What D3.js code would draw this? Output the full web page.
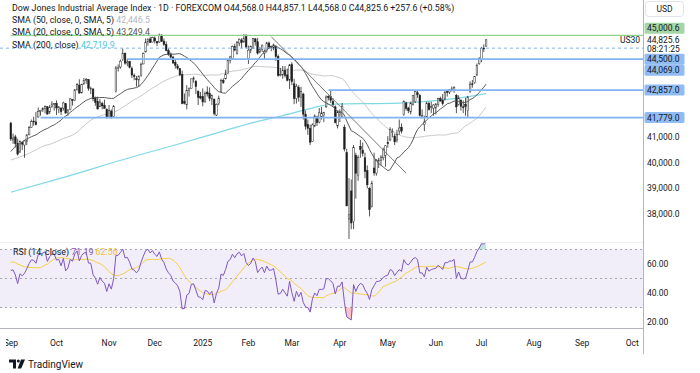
<!DOCTYPE html>
<html>
<head>
<meta charset="utf-8">
<script src="https://cdn.jsdelivr.net/npm/d3@7"></script>
<style>
  body { margin: 0; background: #fff; }
  svg { display: block; font-family: Roboto, 'Open Sans', sans-serif; }
</style>
</head>
<body>
<svg width="700" height="373"></svg>
<script>
// ---- data ----
const firstDay = '2024-09-03';
const holidays = ['2024-11-28', '2024-12-25', '2025-01-01', '2025-01-09', '2025-01-20',
  '2025-02-17', '2025-04-18', '2025-05-26', '2025-06-19'];

// closes before the first visible bar (Jun 21 - Aug 30 2024), only used to warm up SMA / RSI
const warmupCloses = [39150, 39411, 39112, 39127, 39164, 39119,
  39170, 39332, 39308, 39376, 39345, 39292, 39721, 39753, 40001, 40212, 40954, 41198, 40665, 40288,
  40415, 40358, 39854, 39935, 40590, 40540, 40743, 40843,
  40348, 39737, 38703, 38997, 38763, 39446, 39498, 39357, 39766, 40009, 40563, 40660, 40897, 40835,
  40890, 40713, 41175, 41240, 41250, 41091, 41336, 41563];

// daily [open, high, low, close]
const ohlc = [
  // Sep 2024
  [41563, 41607, 40860, 40937], [40900, 41150, 40750, 40975], [41020, 41100, 40600, 40755],
  [40760, 40950, 40290, 40345], [40420, 40880, 40400, 40830], [40800, 40830, 40500, 40737],
  [40700, 40900, 40200, 40861], [40850, 41120, 40700, 41097], [41100, 41450, 41090, 41394],
  [41400, 41700, 41380, 41622], [41640, 41810, 41460, 41606], [41610, 42000, 41470, 41503],
  [41800, 42170, 41780, 42025], [42020, 42080, 41850, 42063], [42080, 42180, 42000, 42124],
  [42130, 42250, 41940, 42208], [42200, 42230, 41900, 41915], [42000, 42270, 41920, 42175],
  [42190, 42420, 42180, 42313], [42300, 42340, 42050, 42330],
  // Oct
  [42330, 42450, 41880, 42156], [42100, 42230, 41950, 42196], [42150, 42180, 41880, 42011],
  [42150, 42400, 42050, 42352], [42320, 42340, 41930, 41954], [41970, 42100, 41850, 42080],
  [42090, 42540, 42060, 42512], [42480, 42500, 42250, 42454], [42440, 42900, 42420, 42863],
  [42860, 43130, 42850, 43065], [43050, 43280, 42720, 42740], [42750, 43100, 42720, 43077],
  [43100, 43330, 43060, 43239], [43250, 43330, 43100, 43275], [43270, 43280, 42830, 42931],
  [42900, 42990, 42700, 42925], [42900, 42920, 42420, 42514], [42530, 42600, 42240, 42374],
  [42400, 42600, 42100, 42114], [42200, 42500, 42190, 42387], [42330, 42400, 42100, 42233],
  [42250, 42480, 42130, 42142], [42100, 42140, 41750, 41763],
  // Nov
  [41830, 42270, 41830, 42052], [42030, 42100, 41740, 41794], [41820, 42270, 41810, 42222],
  [42800, 43800, 42760, 43729], [43720, 43860, 43580, 43729], [43760, 44050, 43700, 43989],
  [44050, 44490, 44000, 44293], [44300, 44330, 43850, 43911], [43920, 44080, 43790, 43958],
  [43980, 44000, 43710, 43751], [43700, 43780, 43330, 43445], [43420, 43510, 43240, 43390],
  [43300, 43410, 42990, 43268], [43250, 43420, 42990, 43408], [43420, 43930, 43380, 43870],
  [43880, 44330, 43870, 44297], [44350, 44880, 44340, 44737], [44750, 44870, 44600, 44860],
  [44860, 44950, 44700, 44722], [44740, 44950, 44730, 44911],
  // Dec
  [44900, 44960, 44680, 44782], [44760, 44780, 44580, 44705], [44740, 45070, 44700, 45014],
  [45010, 45050, 44740, 44766], [44780, 44880, 44580, 44643], [44640, 44760, 44380, 44402],
  [44400, 44490, 44200, 44248], [44270, 44330, 44100, 44149], [44150, 44200, 43900, 43914],
  [43940, 44050, 43700, 43828], [43800, 43880, 43650, 43717], [43700, 43720, 43400, 43450],
  [43460, 43620, 42300, 42327], [42400, 42720, 42290, 42343], [42280, 43050, 42100, 42841],
  [42850, 42960, 42600, 42907], [42910, 43300, 42900, 43297], [43270, 43390, 43150, 43326],
  [43200, 43250, 42700, 42992], [42800, 42850, 42270, 42574], [42600, 42780, 42490, 42544],
  // Jan 2025
  [42600, 42920, 42220, 42392], [42420, 42800, 42350, 42732], [42780, 43000, 42600, 42706],
  [42730, 42960, 42420, 42528], [42500, 42680, 42270, 42635], [42500, 42520, 41860, 41938],
  [41880, 42330, 41840, 42297], [42330, 42640, 42260, 42518], [42800, 43300, 42780, 43222],
  [43230, 43320, 43100, 43153], [43300, 43650, 43270, 43488], [43500, 44050, 43480, 44025],
  [44030, 44200, 43900, 44157], [44100, 44600, 44080, 44565], [44560, 44670, 44380, 44424],
  [44300, 44780, 44250, 44714], [44700, 44880, 44580, 44850], [44820, 44890, 44500, 44713],
  [44750, 45050, 44700, 44882], [44950, 45050, 44480, 44544],
  // Feb
  [44100, 44600, 43880, 44421], [44420, 44600, 44300, 44556], [44500, 44900, 44480, 44873],
  [44860, 44900, 44600, 44747], [44750, 44900, 44250, 44303], [44350, 44540, 44300, 44470],
  [44450, 44650, 44350, 44593], [44300, 44450, 44050, 44368], [44400, 44750, 44330, 44711],
  [44700, 44760, 44480, 44546], [44560, 44600, 44380, 44556], [44500, 44680, 44420, 44628],
  [44580, 44600, 44000, 44176], [44170, 44250, 43380, 43428], [43450, 43720, 43400, 43461],
  [43450, 43800, 43300, 43621], [43620, 43800, 43350, 43433], [43450, 43700, 43200, 43240],
  [43250, 43880, 42900, 43841],
  // Mar
  [43850, 43950, 43050, 43191], [43100, 43300, 42300, 42521], [42520, 43100, 42330, 43006],
  [42950, 43050, 42400, 42579], [42560, 42980, 42200, 42802], [42700, 42750, 41700, 41912],
  [41900, 42050, 41300, 41433], [41500, 41700, 41100, 41350], [41350, 41500, 40700, 40813],
  [40850, 41550, 40830, 41489], [41450, 41900, 41400, 41841], [41800, 41850, 41450, 41582],
  [41600, 42150, 41550, 41965], [41800, 42200, 41700, 41953], [41850, 42000, 41600, 41985],
  [42200, 42650, 42150, 42583], [42600, 42650, 42450, 42587], [42600, 42820, 42350, 42455],
  [42400, 42550, 42200, 42300], [42200, 42250, 41550, 41584], [41450, 42050, 41350, 42002],
  // Apr
  [41900, 42100, 41600, 41989], [41800, 42350, 41750, 42226], [41400, 41500, 40450, 40545],
  [40400, 40550, 38300, 38315], [37800, 39400, 36612, 37966], [38900, 39350, 37400, 37646],
  [37700, 40700, 37400, 40608], [40300, 40400, 38600, 39594], [39500, 40300, 39300, 40213],
  [40650, 40900, 40200, 40525], [40500, 40800, 40250, 40368], [40200, 40400, 39400, 39669],
  [39700, 39900, 39000, 39142], [39000, 39050, 37900, 38170], [38300, 39300, 38250, 39187],
  [39800, 40400, 39500, 39607], [39600, 40150, 39500, 40093], [40050, 40200, 39800, 40114],
  [40100, 40300, 39900, 40228], [40200, 40600, 40100, 40528], [40300, 40700, 39850, 40669],
  // May
  [40800, 41050, 40600, 40753], [40900, 41400, 40850, 41317], [41200, 41350, 41000, 41219],
  [41050, 41150, 40700, 40829], [40900, 41300, 40800, 41114], [41250, 41700, 41100, 41368],
  [41400, 41550, 41150, 41249], [41900, 42450, 41850, 42410], [42350, 42400, 42050, 42141],
  [42150, 42200, 41950, 42051], [42000, 42400, 41900, 42323], [42300, 42660, 42250, 42655],
  [42400, 42800, 42350, 42792], [42750, 42850, 42550, 42677], [42650, 42700, 41820, 41860],
  [41850, 42100, 41750, 41859], [41500, 41850, 41250, 41603], [41800, 42400, 41780, 42343],
  [42330, 42400, 42050, 42098], [42200, 42400, 41950, 42216], [42150, 42300, 41850, 42270],
  // Jun
  [42150, 42350, 41900, 42305], [42300, 42550, 42200, 42520], [42520, 42600, 42400, 42428],
  [42450, 42700, 42250, 42320], [42500, 42850, 42450, 42763], [42800, 42850, 42600, 42762],
  [42780, 42900, 42700, 42867], [42900, 43000, 42800, 42866], [42850, 43000, 42750, 42968],
  [42650, 42700, 41950, 42198], [42300, 42650, 42250, 42516], [42450, 42500, 42050, 42215],
  [42200, 42450, 41950, 42172], [42300, 42550, 41850, 42207], [42050, 42620, 41790, 42582],
  [42800, 43200, 42750, 43089], [43100, 43250, 42950, 43094], [43150, 43400, 43100, 43387],
  [43450, 43900, 43400, 43819], [43900, 44150, 43850, 44095],
  // Jul
  [44050, 44550, 43950, 44495], [44500, 44650, 44350, 44485], [44568, 44857.1, 44568, 44825.6]
];

// 200-day SMA (the chart has no history for it)
const sma200Read = [
  ['2024-09-03', 38850], ['2024-10-03', 39400], ['2024-11-15', 40230], ['2024-12-18', 40780],
  ['2025-01-13', 41170], ['2025-02-04', 41560], ['2025-02-24', 41830], ['2025-03-14', 42150],
  ['2025-03-26', 42300], ['2025-05-08', 42345], ['2025-06-10', 42500], ['2025-07-03', 42720]
];

// horizontal drawings: price, first date (null = full width), kind
const levels = [
  { price: 45000.6, from: '2024-09-03', kind: 'green' },
  { price: 44500.0, from: null, kind: 'dashed' },
  { price: 44069.0, from: '2024-11-13', kind: 'blue' },
  { price: 42857.0, from: '2025-03-25', kind: 'blue' },
  { price: 41779.0, from: '2024-09-20', kind: 'blue' }
];
const trendPoints = [['2025-02-18', 44950], ['2025-05-13', 39600]];

const priceTicks = [38000, 39000, 40000, 41000, 42000, 43000, 44000, 45000];
const rsiTicks = [20, 40, 60];
const rsiBands = [70, 50, 30];

const headerTitle = 'Dow Jones Industrial Average Index · 1D · FOREXCOM';
const headerChange = '+257.6 (+0.58%)';
const symbolName = 'US30';
const countdown = '08:21:25';
const smaLegend = [
  { label: 'SMA (50, close, 0, SMA, 5)', value: '42,446.5', kind: 'sma50' },
  { label: 'SMA (20, close, 0, SMA, 5)', value: '43,249.4', kind: 'sma20' },
  { label: 'SMA (200, close)', value: '42,719.9', kind: 'sma200' }
];
const rsiLegend = { label: 'RSI (14, close)', rsi: '71.19', ma: '62.56' };

// ---- styles ----
const C = {
  text: '#131722', axis: '#b2b5be',
  up: '#ffffff', down: '#1e1e1e', wick: '#2a2a2a',
  sma20: '#5a5a5a', sma50: '#c9c9c9', sma200: '#7fd8e6', sma200Text: '#4cc9dd',
  green: '#8fd18f', greenTag: '#a5d6a7', blue: '#83b3f2', blueTag: '#90bbf3',
  rsi: '#7e57c2', rsiMa: '#f6cf45', band: 'rgba(126,87,194,0.1)'
};

// ---- dates ----
function tradingDays(start, n, skip) {
  const out = [];
  const d = new Date(start + 'T12:00:00Z');
  while (out.length < n) {
    const wd = d.getUTCDay();
    const iso = d.toISOString().slice(0, 10);
    if (wd !== 0 && wd !== 6 && !skip.includes(iso)) out.push(new Date(d));
    d.setUTCDate(d.getUTCDate() + 1);
  }
  return out;
}
const days = tradingDays(firstDay, 285, holidays);
const isoDays = days.map(d => d.toISOString().slice(0, 10));
const idxOf = s => isoDays.indexOf(s);

// ---- indicators ----
const W = warmupCloses.length;
const allCloses = warmupCloses.concat(ohlc.map(d => d[3]));
function sma(values, n) {
  return values.map((v, i) => {
    if (i < n - 1 || values.slice(i - n + 1, i + 1).some(x => x == null)) return null;
    return d3.mean(values.slice(i - n + 1, i + 1));
  });
}
function rsi(values, n) {
  const out = values.map(() => null);
  let g = 0, l = 0;
  for (let i = 1; i <= n; i++) {
    const ch = values[i] - values[i - 1];
    if (ch > 0) g += ch; else l -= ch;
  }
  g /= n; l /= n;
  out[n] = 100 - 100 / (1 + g / l);
  for (let i = n + 1; i < values.length; i++) {
    const ch = values[i] - values[i - 1];
    g = (g * (n - 1) + Math.max(ch, 0)) / n;
    l = (l * (n - 1) + Math.max(-ch, 0)) / n;
    out[i] = l === 0 ? 100 : 100 - 100 / (1 + g / l);
  }
  return out;
}
const sma20 = sma(allCloses, 20).slice(W);
const sma50 = sma(allCloses, 50).slice(W);
const rsiAll = rsi(allCloses, 14);
const rsiVals = rsiAll.slice(W);
const rsiMa = sma(rsiAll, 14).slice(W);

// ---- layout ----
const W_PLOT = 643, MAIN_H = 242, RSI_TOP = 243, RSI_BOT = 328;
const x = d3.scaleLinear().domain([20, 206]).range([56.5, 56.5 + 186 * 2.285]);
const y = d3.scaleLinear().domain([36000, 46000]).range([264.9, 9.9]);
const yr = d3.scaleLinear().domain([0, 100]).range([351, 206]);
const step = x(1) - x(0);

const svg = d3.select('svg');
svg.append('rect').attr('width', 700).attr('height', 373).attr('fill', '#fff');
const defs = svg.append('defs');
defs.append('clipPath').attr('id', 'clipMain').append('rect')
  .attr('x', 0).attr('y', 0).attr('width', W_PLOT).attr('height', MAIN_H - 3);
defs.append('clipPath').attr('id', 'clipRsi').append('rect')
  .attr('x', 0).attr('y', RSI_TOP).attr('width', W_PLOT).attr('height', RSI_BOT - RSI_TOP);
defs.append('clipPath').attr('id', 'clipTime').append('rect')
  .attr('x', 6).attr('y', RSI_BOT).attr('width', W_PLOT - 6).attr('height', 30);

// ---- main pane ----
const main = svg.append('g').attr('clip-path', 'url(#clipMain)');

const line = d3.line().defined(d => d[1] != null).x(d => x(d[0])).y(d => y(d[1]));
main.append('path')
  .attr('d', d3.line().x(d => x(idxOf(d[0]))).y(d => y(d[1])).curve(d3.curveMonotoneX)(sma200Read))
  .attr('fill', 'none').attr('stroke', C.sma200).attr('stroke-width', 1.2);
main.append('path').attr('d', line(sma50.map((v, i) => [i, v])))
  .attr('fill', 'none').attr('stroke', C.sma50).attr('stroke-width', 1);

const bw = Math.max(1, step * 0.7);
const candles = main.selectAll('g.candle').data(ohlc).enter().append('g').attr('class', 'candle');
candles.append('line')
  .attr('x1', (d, i) => x(i)).attr('x2', (d, i) => x(i))
  .attr('y1', d => y(d[1])).attr('y2', d => y(d[2]))
  .attr('stroke', C.wick).attr('stroke-width', 0.8);
candles.append('rect')
  .attr('x', (d, i) => x(i) - bw / 2)
  .attr('width', bw)
  .attr('y', d => y(Math.max(d[0], d[3])))
  .attr('height', d => Math.max(0.8, Math.abs(y(d[0]) - y(d[3]))))
  .attr('fill', d => d[3] >= d[0] ? C.up : C.down)
  .attr('stroke', d => d[3] >= d[0] ? C.wick : C.down)
  .attr('stroke-width', 0.5);

main.append('path').attr('d', line(sma20.map((v, i) => [i, v])))
  .attr('fill', 'none').attr('stroke', C.sma20).attr('stroke-width', 1);

// drawings
levels.forEach(lv => {
  const x0 = lv.from ? x(idxOf(lv.from)) : 0;
  const l = main.append('line')
    .attr('x1', x0).attr('x2', W_PLOT)
    .attr('y1', y(lv.price)).attr('y2', y(lv.price));
  if (lv.kind === 'green') l.attr('stroke', C.green).attr('stroke-width', 1.2);
  else if (lv.kind === 'dashed') l.attr('stroke', C.blue).attr('stroke-width', 1).attr('stroke-dasharray', '3,3');
  else l.attr('stroke', C.blue).attr('stroke-width', 1.8);
});
main.append('line')
  .attr('x1', x(idxOf(trendPoints[0][0]))).attr('y1', y(trendPoints[0][1]))
  .attr('x2', x(idxOf(trendPoints[1][0]))).attr('y2', y(trendPoints[1][1]))
  .attr('stroke', '#7a7a7a').attr('stroke-width', 1);

// ---- RSI pane ----
const rp = svg.append('g').attr('clip-path', 'url(#clipRsi)');
rp.append('rect').attr('x', 0).attr('width', W_PLOT)
  .attr('y', yr(70)).attr('height', yr(30) - yr(70)).attr('fill', C.band);
rsiBands.forEach(b => {
  rp.append('line').attr('x1', 0).attr('x2', W_PLOT).attr('y1', yr(b)).attr('y2', yr(b))
    .attr('stroke', '#a3a6ae').attr('stroke-width', 1).attr('stroke-dasharray', '2,3');
});
const rsiPts = rsiVals.map((v, i) => [i, v]);
rp.append('path')
  .attr('d', d3.area().x(d => x(d[0])).y0(yr(30)).y1(d => yr(Math.min(d[1], 30)))(rsiPts))
  .attr('fill', 'rgba(242,54,69,0.3)');
rp.append('path')
  .attr('d', d3.area().x(d => x(d[0])).y0(yr(70)).y1(d => yr(Math.max(d[1], 70)))(rsiPts))
  .attr('fill', 'rgba(8,153,129,0.25)');
const rline = d3.line().defined(d => d[1] != null).x(d => x(d[0])).y(d => yr(d[1]));
rp.append('path').attr('d', rline(rsiMa.map((v, i) => [i, v])))
  .attr('fill', 'none').attr('stroke', C.rsiMa).attr('stroke-width', 1);
rp.append('path').attr('d', rline(rsiPts))
  .attr('fill', 'none').attr('stroke', C.rsi).attr('stroke-width', 1);

// ---- frames ----
svg.append('line').attr('x1', 0).attr('x2', W_PLOT).attr('y1', MAIN_H + 0.5).attr('y2', MAIN_H + 0.5)
  .attr('stroke', '#eceef2');
svg.append('line').attr('x1', 0).attr('x2', W_PLOT).attr('y1', RSI_BOT + 0.5).attr('y2', RSI_BOT + 0.5)
  .attr('stroke', C.axis);
svg.append('line').attr('x1', W_PLOT + 0.5).attr('x2', W_PLOT + 0.5).attr('y1', 0).attr('y2', 354)
  .attr('stroke', C.axis);

// ---- time axis ----
const monthTicks = [];
days.forEach((d, i) => {
  if (i === 0 || d.getUTCMonth() !== days[i - 1].getUTCMonth()) monthTicks.push(i);
});
svg.append('g').attr('clip-path', 'url(#clipTime)')
  .selectAll('text').data(monthTicks.filter(i => x(i) < W_PLOT - 6)).enter().append('text')
  .attr('x', i => x(i)).attr('y', 346)
  .attr('text-anchor', 'middle').attr('font-size', 8.5).attr('fill', C.text)
  .text(i => days[i].getUTCMonth() === 0 ? d3.utcFormat('%Y')(days[i]) : d3.utcFormat('%b')(days[i]));

// ---- price axis: current price block and level tags ----
const fmt = d3.format(',.1f');
const TAG_H = 11;
const last = ohlc[ohlc.length - 1][3];
const cy = y(last);
const curTop = cy - 6, curBot = cy + 14;

const tags = levels.map(lv => ({ ...lv, cy: y(lv.price) }));
let lim = curTop;
tags.filter(t => t.cy < cy).sort((a, b) => b.cy - a.cy).forEach(t => {
  t.cy = Math.min(t.cy, lim - TAG_H / 2); lim = t.cy - TAG_H / 2;
});
lim = curBot;
tags.filter(t => t.cy >= cy).sort((a, b) => a.cy - b.cy).forEach(t => {
  t.cy = Math.max(t.cy, lim + TAG_H / 2); lim = t.cy + TAG_H / 2;
});

// tick labels hidden where a tag or the price block covers them
const busy = tags.map(t => [t.cy - TAG_H / 2, t.cy + TAG_H / 2]).concat([[curTop, curBot]]);
const free = yy => !busy.some(([a, b]) => yy + 4 > a && yy - 4 < b);

const axisG = svg.append('g');
axisG.selectAll('text.pt').data(priceTicks.filter(p => y(p) < MAIN_H - 5 && free(y(p)))).enter().append('text')
  .attr('x', 647).attr('y', p => y(p) + 3).attr('font-size', 8.5).attr('fill', C.text)
  .text(p => fmt(p));
axisG.selectAll('text.rt').data(rsiTicks).enter().append('text')
  .attr('x', 647).attr('y', v => yr(v) + 3).attr('font-size', 8.5).attr('fill', C.text)
  .text(v => d3.format('.2f')(v));

axisG.append('rect').attr('x', 644).attr('y', curTop).attr('width', 42).attr('height', curBot - curTop)
  .attr('fill', '#fff');
axisG.append('text').attr('x', 647).attr('y', cy + 3).attr('font-size', 8.5).attr('fill', C.text).text(fmt(last));
axisG.append('text').attr('x', 647).attr('y', cy + 12).attr('font-size', 8.5).attr('fill', C.text).text(countdown);
svg.append('text').attr('x', 640).attr('y', cy + 3).attr('text-anchor', 'end')
  .attr('font-size', 8.5).attr('fill', C.text).text(symbolName);

tags.forEach(t => {
  axisG.append('rect').attr('x', 644.5).attr('y', t.cy - TAG_H / 2).attr('width', 40).attr('height', TAG_H)
    .attr('rx', 1.5).attr('fill', t.kind === 'green' ? C.greenTag : C.blueTag);
  axisG.append('text').attr('x', 647).attr('y', t.cy + 3).attr('font-size', 8.5).attr('fill', C.text)
    .text(fmt(t.price));
});

// currency box
axisG.append('rect').attr('x', 645.5).attr('y', 1.5).attr('width', 38).attr('height', 15).attr('rx', 3)
  .attr('fill', '#fff').attr('stroke', '#e0e3eb');
axisG.append('text').attr('x', 664.5).attr('y', 12).attr('text-anchor', 'middle')
  .attr('font-size', 8.5).attr('fill', C.text).text('USD');

// ---- legends ----
const o = ohlc[ohlc.length - 1];
const h1 = svg.append('text').attr('x', 12).attr('y', 10.5).attr('font-size', 8.8).attr('fill', C.text);
h1.append('tspan').text(headerTitle + ' ');
[['O', o[0]], ['H', o[1]], ['L', o[2]], ['C', o[3]]].forEach(([k, v], i) => {
  h1.append('tspan').text((i ? ' ' : '') + k);
  h1.append('tspan').text(fmt(v));
});
h1.append('tspan').text(' ' + headerChange);

const legendColor = { sma50: C.axis, sma20: '#555', sma200: C.sma200Text };
smaLegend.forEach((s, i) => {
  const t = svg.append('text').attr('x', 12).attr('y', 22.8 + i * 12.4).attr('font-size', 8.8).attr('fill', C.text);
  t.append('tspan').text(s.label + ' ');
  t.append('tspan').attr('fill', legendColor[s.kind]).text(s.value);
});

const rl = svg.append('text').attr('x', 13).attr('y', 254.5).attr('font-size', 8.8).attr('fill', C.text);
rl.append('tspan').text(rsiLegend.label + ' ');
rl.append('tspan').attr('fill', C.rsi).text(rsiLegend.rsi + ' ');
rl.append('tspan').attr('fill', '#f2c230').text(rsiLegend.ma);

// ---- TradingView mark ----
const logo = svg.append('g').attr('fill', C.text);
logo.append('path').attr('d', 'M9 359.5h7v9h-3v-6h-4z');
logo.append('circle').attr('cx', 18.3).attr('cy', 361).attr('r', 1.5);
logo.append('path').attr('d', 'M21 359.5h4l-3.8 9h-3.6z');
svg.append('text').attr('x', 28).attr('y', 368).attr('font-size', 10).attr('fill', C.text).text('TradingView');
</script>
</body>
</html>
